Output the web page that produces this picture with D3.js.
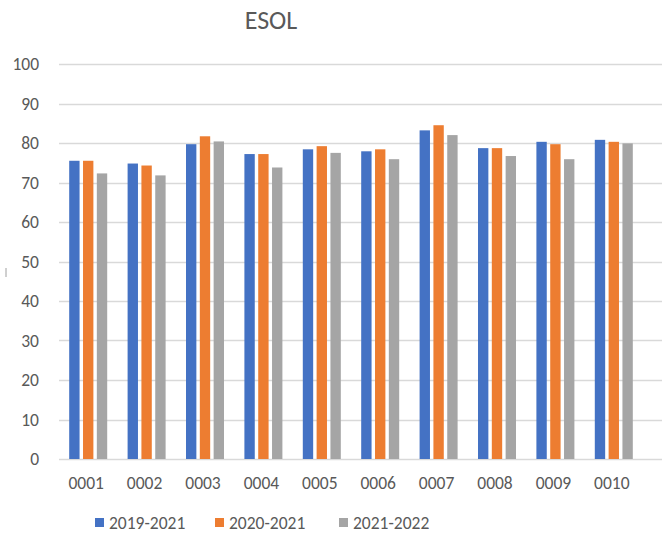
<!DOCTYPE html>
<html>
<head>
<meta charset="utf-8">
<script src="https://cdn.jsdelivr.net/npm/d3@7"></script>
<style>
  html, body { margin: 0; padding: 0; background: #fff; }
  svg { display: block; }
  text { font-family: Calibri, Carlito, Lato, "Open Sans", sans-serif; fill: #595959; }
</style>
</head>
<body>
<div id="chart"></div>
<script>
const title = "ESOL";
const categories = ["0001","0002","0003","0004","0005","0006","0007","0008","0009","0010"];
const seriesNames = ["2019-2021","2020-2021","2021-2022"];
const seriesColors = ["#4472C4","#ED7D31","#A5A5A5"];
const values2019_2021 = [75.5, 74.8, 79.7, 77.2, 78.4, 77.9, 83.2, 78.7, 80.3, 80.8];
const values2020_2021 = [75.5, 74.3, 81.7, 77.2, 79.2, 78.4, 84.5, 78.7, 79.7, 80.3];
const values2021_2022 = [72.3, 71.8, 80.4, 73.8, 77.5, 75.9, 82.0, 76.7, 75.9, 79.9];
const yTicks = [0,10,20,30,40,50,60,70,80,90,100];

const allValues = [values2019_2021, values2020_2021, values2021_2022];
const W = 662, H = 533;
const FS = 17.5;
const svg = d3.select("#chart").append("svg").attr("width", W).attr("height", H);

const x0 = d3.scaleBand().domain(categories).range([59, 643]).paddingInner(0).paddingOuter(0);
const groupW = 38;
const x1 = d3.scaleBand().domain(seriesNames).range([0, groupW]).paddingInner(0.25).paddingOuter(0);
const y = d3.scaleLinear().domain([0, 100]).range([459, 64]);

// gridlines
svg.append("g").selectAll("line").data(yTicks).join("line")
  .attr("x1", 59).attr("x2", W)
  .attr("y1", d => Math.round(y(d)) + 0.5).attr("y2", d => Math.round(y(d)) + 0.5)
  .attr("stroke", "#d9d9d9").attr("stroke-width", 1.5);

// y axis labels
const yAxis = d3.axisLeft(y).tickValues(yTicks).tickSize(0).tickPadding(0);
const yg = svg.append("g").attr("transform", "translate(39,0)").call(yAxis);
yg.select(".domain").remove();
yg.selectAll("text").attr("font-size", FS).style("fill", "#595959")
  .attr("font-family", "Calibri, Carlito, Lato, sans-serif");

// bars
const groups = svg.append("g").selectAll("g").data(categories).join("g")
  .attr("transform", c => `translate(${x0(c) + (x0.bandwidth() - groupW) / 2},0)`);
groups.selectAll("rect").data((c, i) => seriesNames.map((s, k) => ({ s, k, v: allValues[k][i] })))
  .join("rect")
  .attr("x", d => x1(d.s))
  .attr("width", x1.bandwidth())
  .attr("y", d => y(d.v))
  .attr("height", d => y(0) - y(d.v))
  .attr("fill", d => seriesColors[d.k]);

// x axis labels
const xAxis = d3.axisBottom(x0).tickSize(0).tickPadding(0);
const xg = svg.append("g").attr("transform", "translate(-2,477)").call(xAxis);
xg.select(".domain").remove();
xg.selectAll("text").attr("font-size", FS).style("fill", "#595959")
  .attr("font-family", "Calibri, Carlito, Lato, sans-serif");

// title
svg.append("text").attr("x", 271).attr("y", 29).attr("text-anchor", "middle")
  .attr("font-size", 26).text(title);

// small clipped axis-title mark on the left
svg.append("line").attr("x1", 6).attr("x2", 6).attr("y1", 268).attr("y2", 277)
  .attr("stroke", "#a0a0a0").attr("stroke-width", 1);

// legend
const legendX = [95, 215, 339];
const lg = svg.append("g").selectAll("g").data(seriesNames).join("g")
  .attr("transform", (d, i) => `translate(${legendX[i]},0)`);
lg.append("rect").attr("x", 0).attr("y", 518).attr("width", 9).attr("height", 9)
  .attr("fill", (d, i) => seriesColors[i]);
lg.append("text").attr("x", 14).attr("y", 529).attr("font-size", FS).text(d => d);
</script>
</body>
</html>
